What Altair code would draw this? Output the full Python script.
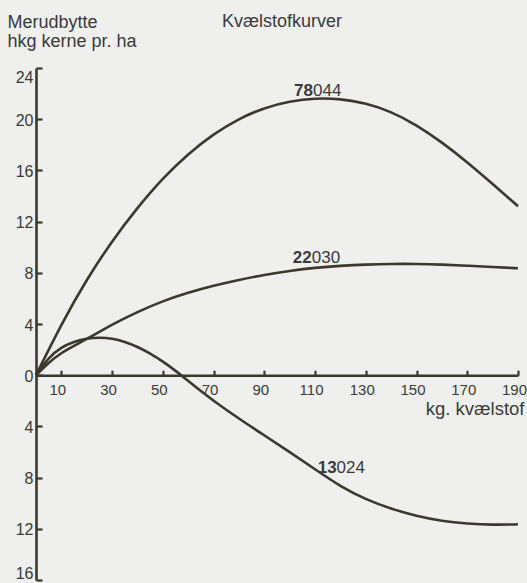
import altair as alt
import pandas as pd

# ---- data ----
n_78044 = [0, 10, 20, 30, 40, 50, 60, 70, 80, 90, 100, 110, 120, 130, 140, 150, 160, 170, 180, 190]
y_78044 = [0, 4.0, 7.5, 10.5, 13.1, 15.4, 17.3, 18.85, 20.05, 20.9, 21.4, 21.65, 21.6, 21.25, 20.6, 19.55, 18.2, 16.65, 14.95, 13.2]

n_22030 = [0, 5, 10, 15, 20, 25, 30, 40, 50, 60, 70, 80, 90, 100, 110, 120, 130, 140, 150, 160, 170, 180, 190]
y_22030 = [0, 1.0, 1.75, 2.3, 2.83, 3.38, 3.95, 4.95, 5.8, 6.45, 7.0, 7.45, 7.85, 8.15, 8.4, 8.55, 8.65, 8.7, 8.7, 8.65, 8.55, 8.45, 8.35]

n_13024 = [0, 5, 10, 15, 20, 25, 30, 35, 40, 45, 50, 55, 60, 65, 70, 80, 90, 100, 110, 120, 130, 140, 150, 160, 170, 180, 190]
y_13024 = [0, 1.4, 2.2, 2.62, 2.88, 2.95, 2.88, 2.62, 2.22, 1.7, 1.07, 0.35, -0.45, -1.25, -2.0, -3.4, -4.7, -6.0, -7.35, -8.7, -9.7, -10.45, -11.0, -11.4, -11.6, -11.7, -11.65]

x_ticks = [10, 30, 50, 70, 90, 110, 130, 150, 170, 190]
y_ticks = [-16, -12, -8, -4, 0, 4, 8, 12, 16, 20, 24]

lab_bold = ["78", "22", "13"]
lab_rest = ["044", "030", "024"]
lab_x = [109.2, 108.7, 118.5]
lab_y = [21.8, 8.74, -7.66]

title_text = "Kvælstofkurver"
y_title = ["Merudbytte", "hkg kerne pr. ha"]
x_title = "kg. kvælstof"

# ---- build tables ----
rows = []
for name, xs, ys in [("78044", n_78044, y_78044), ("22030", n_22030, y_22030), ("13024", n_13024, y_13024)]:
    for a, b in zip(xs, ys):
        rows.append({"serie": name, "n": a, "udbytte": b})
df = pd.DataFrame(rows)
lab_df = pd.DataFrame({"n": lab_x, "udbytte": lab_y, "bold": lab_bold, "rest": lab_rest})

INK = "#3a392b"
TXT = "#3a3a3a"
FONT = "Liberation Sans"
W, H = 482, 512

x_scale = alt.Scale(domain=[0, 190], nice=False, zero=False)
y_scale = alt.Scale(domain=[-16, 24], nice=False, zero=False)

x_axis = alt.Axis(
    orient="top", offset=-(24 * H / 40), values=x_ticks, grid=False,
    domainColor=INK, domainWidth=2.6, tickColor=INK, tickWidth=2.2, tickSize=5,
    labelBaseline="alphabetic", labelPadding=-24, labelOffset=-4, labelFlush=False,
    labelFont=FONT, labelFontSize=15, labelColor=TXT, labelOverlap=False,
    title=x_title, titleX=488, titleY=39, titleAlign="right", titleBaseline="alphabetic",
    titleFont=FONT, titleFontSize=18.5, titleFontWeight="normal", titleColor=TXT,
)
y_axis = alt.Axis(
    orient="right", offset=-W, values=y_ticks, grid=False, labelExpr="abs(datum.value)",
    domainColor=INK, domainWidth=2.6, tickColor=INK, tickWidth=2.2, tickSize=6,
    labelAlign="right", labelPadding=-9, labelOffset=1,
    labelFont=FONT, labelFontSize=16, labelColor=TXT, labelOverlap=False,
    labelFlush=True, labelFlushOffset=0,
    title=y_title, titleAngle=0, titleX=-29, titleY=-41, titleAlign="left",
    titleBaseline="alphabetic", titleLineHeight=19.5,
    titleFont=FONT, titleFontSize=18, titleFontWeight="normal", titleColor=TXT,
)

X = alt.X("n:Q", scale=x_scale, axis=x_axis)
Y = alt.Y("udbytte:Q", scale=y_scale, axis=y_axis)

lines = alt.Chart(df).mark_line(interpolate="basis", strokeWidth=2.6, color=INK).encode(
    x=X, y=Y, detail="serie:N", order="n:Q",
)

bold = alt.Chart(lab_df).mark_text(
    align="right", baseline="alphabetic", font=FONT, fontSize=17, fontWeight="bold", color=TXT
).encode(x=X, y=Y, text="bold:N")
rest = alt.Chart(lab_df).mark_text(
    align="left", baseline="alphabetic", font=FONT, fontSize=17, color=TXT
).encode(x=X, y=Y, text="rest:N")
title = alt.Chart(pd.DataFrame({"t": [title_text]})).mark_text(
    align="left", baseline="alphabetic", font=FONT, fontSize=18, color=TXT
).encode(x=alt.value(186), y=alt.value(-41), text="t:N")

chart = alt.layer(lines, bold, rest, title).properties(
    width=W, height=H,
    padding={"left": 36, "top": 68, "right": 9, "bottom": 3},
    autosize="none",
    background="#efefed",
).configure_view(stroke=None)

chart.save("out.html", embed_options={"renderer": "svg", "actions": False})
